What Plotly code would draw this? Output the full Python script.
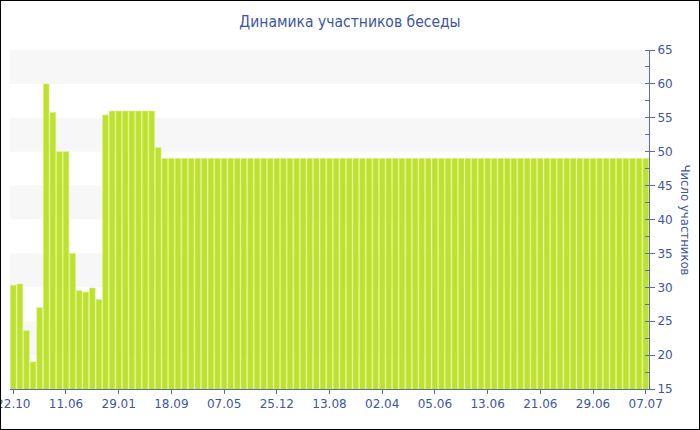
import plotly.graph_objects as go

values = [30.3, 30.5, 23.6, 19.0, 27.0, 60.0, 55.8, 50.0, 50.0, 35.0,
          29.5, 29.3, 29.9, 28.2, 55.4, 56.0, 56.0, 56.0, 56.0, 56.0,
          56.0, 56.0, 50.6, 49.0, 49.0, 49.0, 49.0, 49.0, 49.0, 49.0,
          49.0, 49.0, 49.0, 49.0, 49.0, 49.0, 49.0, 49.0, 49.0, 49.0,
          49.0, 49.0, 49.0, 49.0, 49.0, 49.0, 49.0, 49.0, 49.0, 49.0,
          49.0, 49.0, 49.0, 49.0, 49.0, 49.0, 49.0, 49.0, 49.0, 49.0,
          49.0, 49.0, 49.0, 49.0, 49.0, 49.0, 49.0, 49.0, 49.0, 49.0,
          49.0, 49.0, 49.0, 49.0, 49.0, 49.0, 49.0, 49.0, 49.0, 49.0,
          49.0, 49.0, 49.0, 49.0, 49.0, 49.0, 49.0, 49.0, 49.0, 49.0,
          49.0, 49.0, 49.0, 49.0, 49.0, 49.0, 49.0]
tick_labels = ["22.10", "11.06", "29.01", "18.09", "07.05", "25.12", "13.08",
               "02.04", "05.06", "13.06", "21.06", "29.06", "07.07"]
tick_step = 8
band_starts = [20, 30, 40, 50, 60]
band_size = 5

title = "Динамика участников беседы"
y_title = "Число участников"

x = list(range(len(values)))
tickvals = [i * tick_step for i in range(len(tick_labels))]

TXT = "#3e55a3"
AX = "#5b6ea8"
FONT_T = "DejaVu Sans Condensed, DejaVu Sans"
FONT = "DejaVu Sans"
W, H = 700, 430
ML, MR, MT, MB = 10, 51, 50, 41
pw = W - ML - MR
ph = H - MT - MB

fig = go.Figure(go.Bar(
    x=x, y=values,
    marker=dict(color="#bde22d", line=dict(color="#d6ee7c", width=0.6)),
    hoverinfo="skip",
))

shapes = []
for b in band_starts:
    shapes.append(dict(type="rect", xref="paper", yref="y", x0=0, x1=1,
                       y0=b, y1=b + band_size, fillcolor="#f7f7f7",
                       line=dict(width=0), layer="below"))
shapes.append(dict(type="rect", xref="paper", yref="paper",
                   x0=-ML / pw, x1=1 + MR / pw, y0=-MB / ph, y1=1 + MT / ph,
                   line=dict(color="black", width=2), fillcolor="rgba(0,0,0,0)"))

fig.update_layout(
    width=W, height=H,
    margin=dict(l=ML, r=MR, t=MT, b=MB, autoexpand=False),
    paper_bgcolor="white", plot_bgcolor="white",
    bargap=0.14,
    showlegend=False,
    font=dict(family=FONT, size=12, color=TXT),
    title=dict(text=title, x=0.5, xanchor="center", y=1 - 22 / H, yanchor="middle",
               font=dict(family=FONT_T, size=15.5, color=TXT)),
    shapes=shapes,
    annotations=[dict(text=y_title, textangle=90, xref="paper", yref="paper",
                      x=(685 - ML) / pw, xanchor="center", y=0.5,
                      showarrow=False,
                      font=dict(family=FONT_T, size=13, color=TXT))],
    xaxis=dict(range=[-0.5, len(values) - 0.5], tickmode="array",
               tickvals=tickvals, ticktext=tick_labels, showgrid=False,
               zeroline=False, showline=True, linecolor=AX, linewidth=1,
               ticks="outside", ticklen=4, tickcolor=AX, automargin=False,
               ticklabeloverflow="allow"),
    yaxis=dict(side="right", range=[15, 65], dtick=5, tick0=15,
               showgrid=False, zeroline=False, showline=True, linecolor=AX,
               linewidth=1, ticks="outside", ticklen=5, tickcolor=AX,
               automargin=False, ticklabeloverflow="allow",
               minor=dict(dtick=2.5, ticks="inside", ticklen=4, tickcolor=AX)),
)

fig.write_html("out.html", config={"displayModeBar": False},
               post_script="document.body.style.margin='0';"
                           "document.body.style.overflow='hidden';")
